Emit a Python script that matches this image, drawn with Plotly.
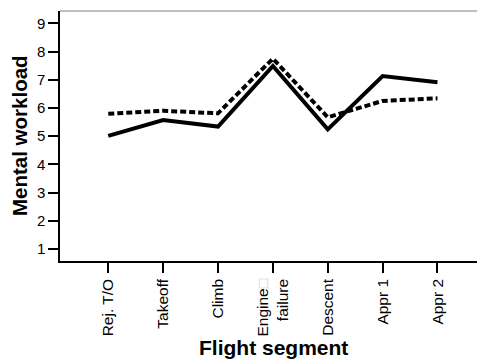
import plotly.graph_objects as go

segments = ["Rej. T/O", "Takeoff", "Climb",
            "Engine<span style='color:#c8c8c8'>□</span><br>failure",
            "Descent", "Appr 1", "Appr 2"]
solid_vals = [5.01, 5.57, 5.34, 7.49, 5.24, 7.13, 6.91]
dashed_vals = [5.79, 5.90, 5.81, 7.75, 5.67, 6.25, 6.34]
y_ticks = [1, 2, 3, 4, 5, 6, 7, 8, 9]

FONT = "Liberation Sans, Arial, Helvetica, sans-serif"
xpos = list(range(len(segments)))

fig = go.Figure()
fig.add_trace(go.Scatter(x=xpos, y=dashed_vals, mode="lines",
                         line=dict(color="black", width=4, dash="6px,3px"),
                         showlegend=False, hoverinfo="skip"))
fig.add_trace(go.Scatter(x=xpos, y=solid_vals, mode="lines",
                         line=dict(color="black", width=4),
                         showlegend=False, hoverinfo="skip"))

fig.update_layout(
    width=477, height=362,
    margin=dict(l=60, r=0, t=11, b=101),
    paper_bgcolor="white", plot_bgcolor="white",
    font=dict(family=FONT, color="black", size=15),
    xaxis=dict(range=[-0.88, 6.72], tickmode="array", tickvals=xpos,
               ticktext=segments, tickangle=-90, ticks="outside",
               ticklen=10, tickwidth=1.5, tickcolor="black",
               showline=True, linecolor="black", linewidth=1.5,
               showgrid=False, zeroline=False,
               tickfont=dict(size=15.5, family=FONT)),
    yaxis=dict(range=[0.57, 9.44], tickvals=y_ticks, ticks="outside",
               ticklen=10, tickwidth=1.5, tickcolor="black",
               showline=True, linecolor="black", linewidth=1.5,
               showgrid=False, zeroline=False,
               tickfont=dict(size=15, family=FONT)),
    shapes=[dict(type="line", xref="paper", yref="paper", x0=0, x1=1,
                 y0=1, y1=1, line=dict(color="#808080", width=1))],
    annotations=[
        dict(text="<b>Mental workload</b>", xref="paper", yref="paper",
             x=(19 - 60) / 417, y=0.5, textangle=-90, showarrow=False,
             font=dict(size=20.5, family=FONT), xanchor="center", yanchor="middle"),
        dict(text="<b>Flight segment</b>", xref="paper", yref="paper",
             x=(273 - 60) / 417, y=-(361 - 261) / 250, showarrow=False,
             font=dict(size=21, family=FONT), xanchor="center", yanchor="bottom"),
    ],
)

fig.write_html("out.html")
